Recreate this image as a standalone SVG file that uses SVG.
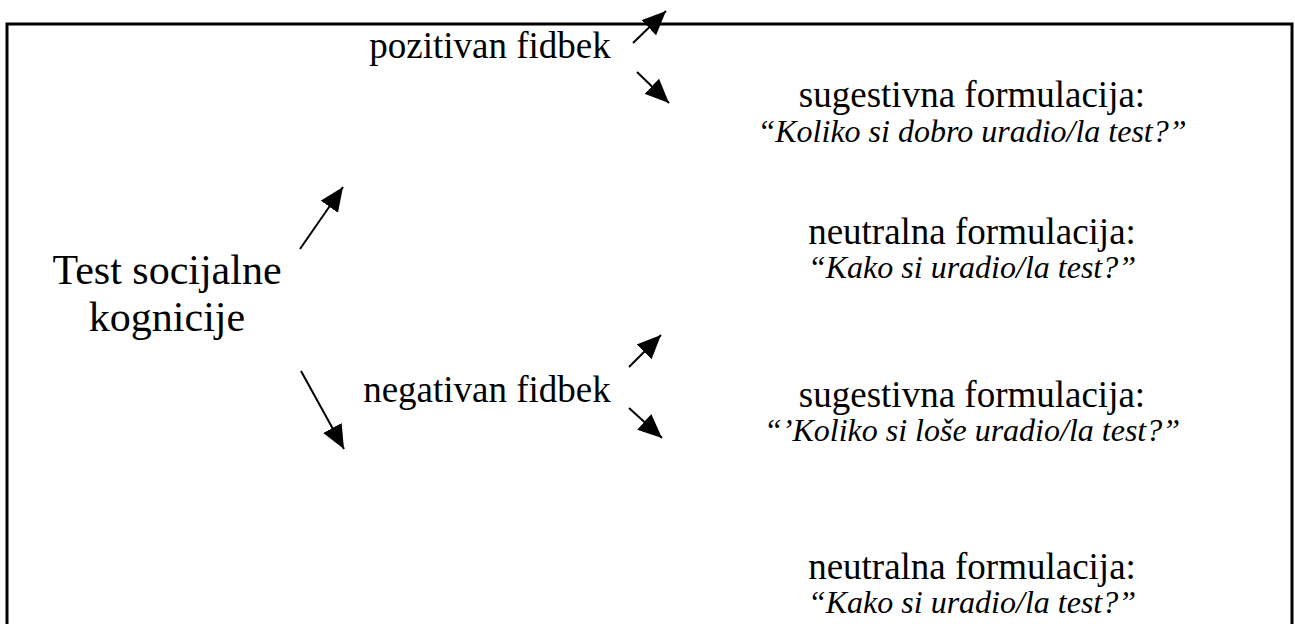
<svg xmlns="http://www.w3.org/2000/svg" width="1295" height="624" viewBox="0 0 1295 624">
  <style>
    .frame { fill: none; stroke: #000; stroke-width: 3; }
    .lbl { font-family: "Liberation Serif", "Times New Roman", serif; fill: #000; text-anchor: middle; }
    .root { font-size: 42px; }
    .mid { font-size: 37px; }
    .head { font-size: 37px; }
    .quote { font-size: 32px; font-style: italic; }
    .edge { stroke: #000; stroke-width: 2; fill: none; marker-end: url(#arrow); }
  </style>
  <defs>
    <marker id="arrow" markerUnits="userSpaceOnUse" markerWidth="26" markerHeight="24" refX="24" refY="12" orient="auto">
      <path d="M0,1.5 L24,12 L0,22.5 Z" fill="#000"/>
    </marker>
  </defs>

  <rect width="1295" height="624" fill="#fff"/>
  <rect class="frame" x="7" y="24" width="1285" height="640"/>

  <g id="node-root">
    <text class="lbl root" x="167" y="284">Test socijalne</text>
    <text class="lbl root" x="167" y="331">kognicije</text>
  </g>

  <g id="node-pozitivan">
    <text class="lbl mid" x="490" y="58">pozitivan fidbek</text>
  </g>

  <g id="node-negativan">
    <text class="lbl mid" x="487" y="402">negativan fidbek</text>
  </g>

  <g id="node-poz-sugestivna">
    <text class="lbl head" x="972" y="107">sugestivna formulacija:</text>
    <text class="lbl quote" x="972" y="142">“Koliko si dobro uradio/la test?”</text>
  </g>

  <g id="node-poz-neutralna">
    <text class="lbl head" x="972" y="244">neutralna formulacija:</text>
    <text class="lbl quote" x="972" y="278">“Kako si uradio/la test?”</text>
  </g>

  <g id="node-neg-sugestivna">
    <text class="lbl head" x="972" y="407">sugestivna formulacija:</text>
    <text class="lbl quote" x="972" y="441">“’Koliko si loše uradio/la test?”</text>
  </g>

  <g id="node-neg-neutralna">
    <text class="lbl head" x="972" y="579">neutralna formulacija:</text>
    <text class="lbl quote" x="972" y="613">“Kako si uradio/la test?”</text>
  </g>

  <g id="connectors">
    <line class="edge" x1="300" y1="249" x2="343" y2="187"/>
    <line class="edge" x1="301" y1="371" x2="344" y2="449"/>
    <line class="edge" x1="633" y1="43" x2="666" y2="11"/>
    <line class="edge" x1="637" y1="72" x2="669" y2="103"/>
    <line class="edge" x1="629" y1="367" x2="661" y2="335"/>
    <line class="edge" x1="629" y1="408" x2="662" y2="438"/>
  </g>
</svg>
